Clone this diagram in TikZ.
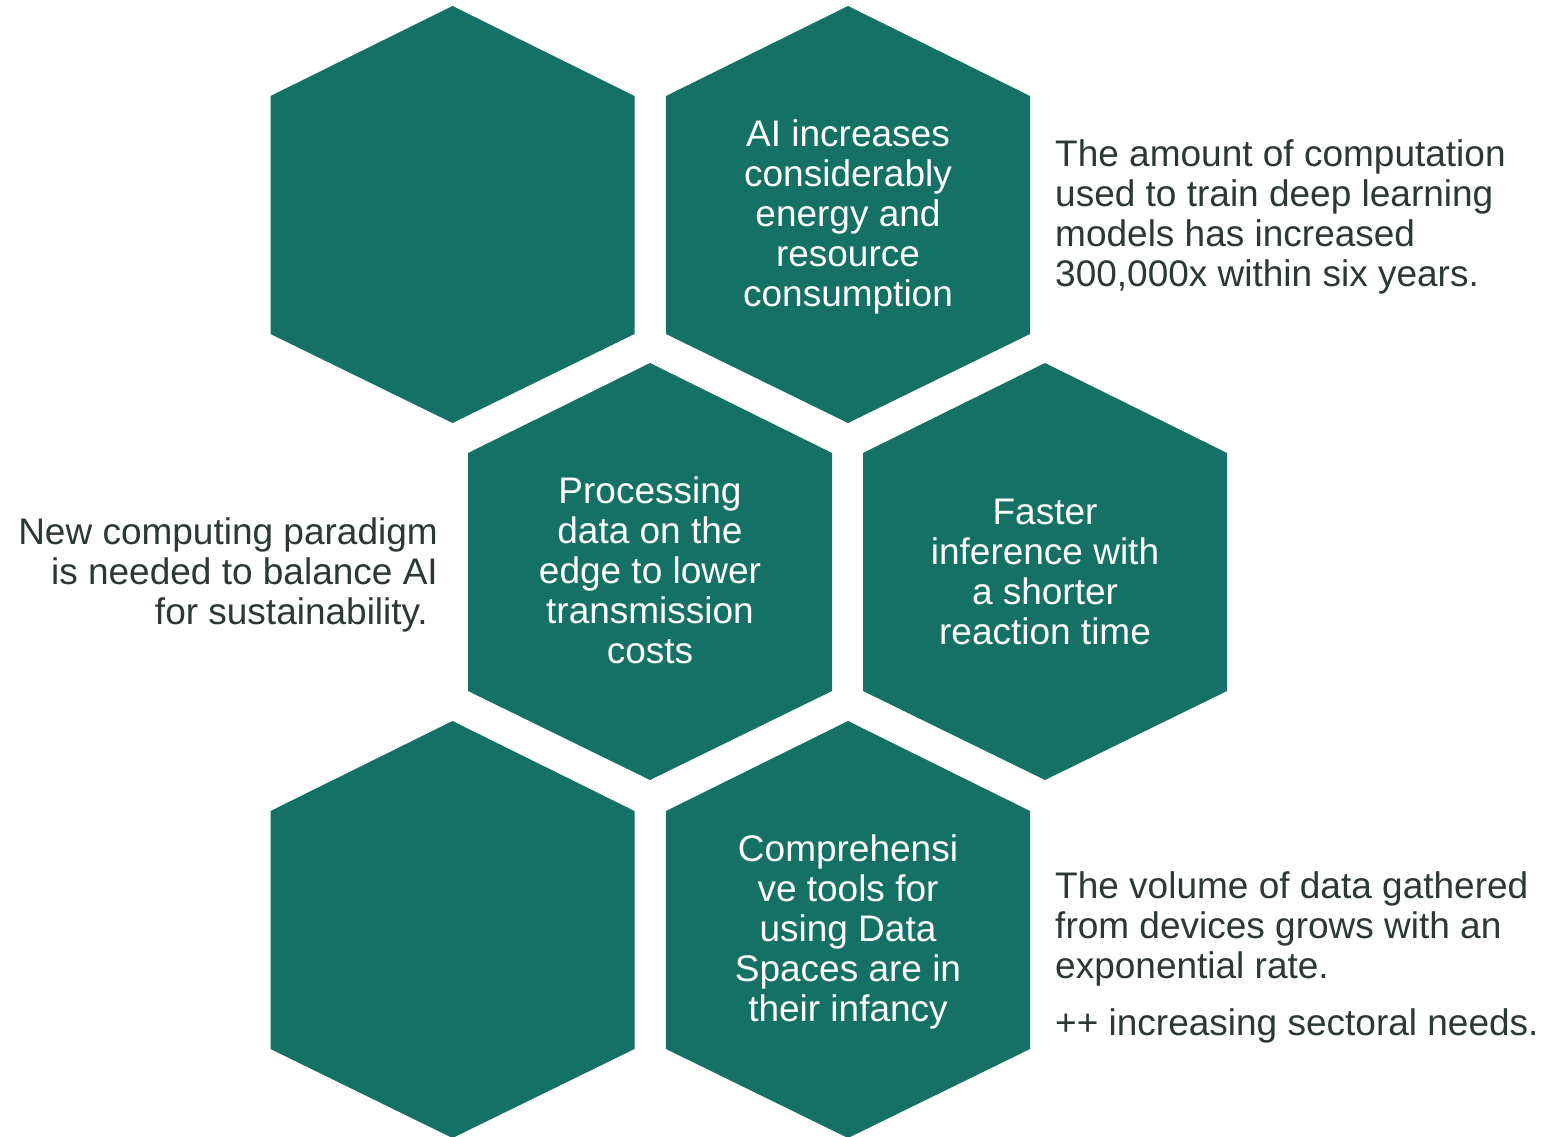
\documentclass[tikz,border=0pt]{standalone}
\usepackage{fontspec}
\setmainfont{Liberation Sans}
\definecolor{hexteal}{HTML}{157166}
\definecolor{txtgray}{HTML}{2B3836}
\tikzset{
  hexfill/.style={fill=hexteal},
  hextext/.style={text=white, align=center, inner sep=0pt, font=\fontsize{37}{40}\selectfont},
  sidetext/.style={text=txtgray, inner sep=0pt, font=\fontsize{37}{40}\selectfont},
}
\newcommand\myhexagon[3]{%
  \coordinate (#1) at (#2,#3);
  \fill[hexfill] (#1) -- ++(182,90) -- ++(0,238) -- ++(-182,89) -- ++(-182,-89) -- ++(0,-238) -- cycle;
}
\begin{document}
\begin{tikzpicture}[x=1pt,y=-1pt]
\useasboundingbox (0,0) rectangle (1552,1137);
\fill[white] (0,0) rectangle (1552,1137);
\myhexagon{h1}{452.5}{6}
\myhexagon{h2}{848}{6}
\myhexagon{h3}{650}{363}
\myhexagon{h4}{1045}{363}
\myhexagon{h5}{452.5}{721}
\myhexagon{h6}{848}{721}

\node[hextext] (t2) at (848,217) {AI increases\\considerably\\energy and\\resource\\consumption};
\node[hextext] (t3) at (650,570.5) {Processing\\data on the\\edge to lower\\transmission\\costs};
\node[hextext] (t4) at (1045,572) {Faster\\inference with\\a shorter\\reaction time};
\node[hextext] (t6) at (848,932) {Comprehensi\\ve tools for\\using Data\\Spaces are in\\their infancy};

\node[sidetext, anchor=north west, align=left] (r1) at (1055,139) {The amount of computation\\used to train deep learning\\models has increased\\300,000x within six years.};
\node[sidetext, anchor=north east, align=right] (l1) at (438,517) {New computing paradigm\\is needed to balance AI\\for sustainability.\hspace*{10pt}};
\node[sidetext, anchor=north west, align=left] (r2) at (1055,871) {The volume of data gathered\\from devices grows with an\\exponential rate.\\[17pt]++ increasing sectoral needs.};
\end{tikzpicture}
\end{document}
